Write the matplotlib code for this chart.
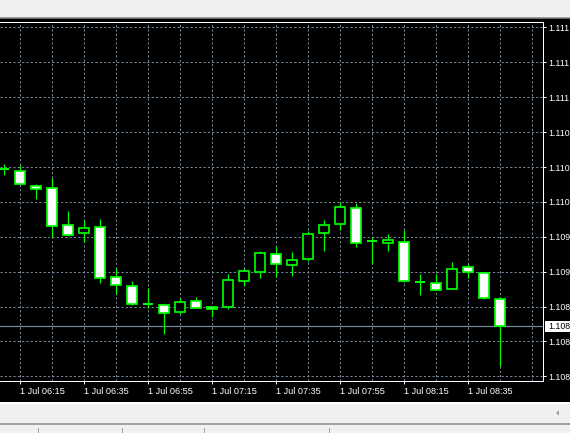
import matplotlib
matplotlib.use('Agg')
import matplotlib.pyplot as plt
from matplotlib.patches import Rectangle, Polygon
from matplotlib.transforms import blended_transform_factory

plt.rcParams['font.family'] = ['Liberation Sans', 'DejaVu Sans']

# ---------------- data ----------------
times = ['06:10', '06:15', '06:20', '06:25', '06:30', '06:35', '06:40', '06:45',
         '06:50', '06:55', '07:00', '07:05', '07:10', '07:15', '07:20', '07:25',
         '07:30', '07:35', '07:40', '07:45', '07:50', '07:55', '08:00', '08:05',
         '08:10', '08:15', '08:20', '08:25', '08:30', '08:35', '08:40', '08:45']
opens = [1.11035, 1.11033, 1.11018, 1.11016, 1.10979, 1.10971, 1.10977, 1.10927,
         1.10918, 1.10900, 1.10899, 1.10892, 1.10903, 1.10897, 1.10897, 1.10923,
         1.10932, 1.10950, 1.10939, 1.10945, 1.10971, 1.10980, 1.10996, 1.10963,
         1.10961, 1.10962, 1.10922, 1.10921, 1.10915, 1.10937, 1.10931, 1.10905]
highs = [1.11040, 1.11039, 1.11020, 1.11026, 1.10993, 1.10984, 1.10985, 1.10936,
         1.10923, 1.10916, 1.10900, 1.10906, 1.10907, 1.10898, 1.10930, 1.10936,
         1.10953, 1.10958, 1.10952, 1.10973, 1.10984, 1.11002, 1.11001, 1.10967,
         1.10970, 1.10974, 1.10930, 1.10930, 1.10942, 1.10940, 1.10932, 1.10907]
lows = [1.11029, 1.11020, 1.11005, 1.10967, 1.10968, 1.10962, 1.10921, 1.10910,
        1.10899, 1.10896, 1.10869, 1.10890, 1.10896, 1.10887, 1.10895, 1.10918,
        1.10926, 1.10927, 1.10928, 1.10943, 1.10953, 1.10974, 1.10957, 1.10940,
        1.10953, 1.10922, 1.10909, 1.10914, 1.10915, 1.10926, 1.10905, 1.10837]
closes = [1.11035, 1.11020, 1.11015, 1.10978, 1.10969, 1.10976, 1.10926, 1.10919,
          1.10900, 1.10900, 1.10891, 1.10902, 1.10896, 1.10895, 1.10924, 1.10933,
          1.10951, 1.10940, 1.10944, 1.10970, 1.10979, 1.10997, 1.10961, 1.10963,
          1.10964, 1.10923, 1.10922, 1.10914, 1.10935, 1.10932, 1.10906, 1.10877]
price_levels = [1.10827, 1.10862, 1.10897, 1.10932, 1.10967, 1.11002,
                1.11037, 1.11072, 1.11107, 1.11142, 1.11177]
time_labels = ['1 Jul 06:15', '1 Jul 06:35', '1 Jul 06:55', '1 Jul 07:15',
               '1 Jul 07:35', '1 Jul 07:55', '1 Jul 08:15', '1 Jul 08:35']
current_price = 1.10877

# ---------------- style ----------------
W, H = 570, 433
GREEN = '#00ff00'
GRID = '#778899'
FS = 6.6
PX = 72 / 100.0  # points per pixel


def short(p):
    # the price scale is cut off at the window edge: only 5 characters show
    return f'{p:.5f}'[:5]


fig = plt.figure(figsize=(W / 100, H / 100), dpi=100)
fig.patch.set_facecolor('black')


def frect(x0, y0, x1, y1, color):
    fig.patches.append(Rectangle((x0 / W, 1 - y1 / H), (x1 - x0) / W, (y1 - y0) / H,
                                 transform=fig.transFigure, facecolor=color,
                                 edgecolor='none', zorder=0))


# window chrome
frect(0, 0, W, 17, '#f0f0f0')
frect(0, 17, W, 18, '#a0a0a0')
frect(0, 18, W, 19, '#696969')
frect(0, 402, W, 403.5, '#ffffff')
frect(0, 403.5, W, 423, '#f0f0f0')
frect(0, 423, W, 424.5, '#a0a0a0')
frect(0, 424.5, W, H, '#f0f0f0')
for sx in [38, 121.7, 204, 329.3]:
    frect(sx, 428, sx + 1, H, '#a0a0a0')
fig.patches.append(Polygon([(556 / W, 1 - 413 / H), (559 / W, 1 - 410.3 / H),
                            (559 / W, 1 - 415.7 / H)], closed=True,
                           transform=fig.transFigure, facecolor='#a0a0a0',
                           edgecolor='none'))

top_px, bot_px, right_px = 21.5, 381.3, 543
ax = fig.add_axes([0, 1 - bot_px / H, right_px / W, (bot_px - top_px) / H])
ax.set_facecolor('black')

x = list(range(len(times)))
x0_px, step_px = 4.3, 16.0
ax.set_xlim(-x0_px / step_px, (right_px - x0_px) / step_px)
ax.set_ylim(1.10822, 1.11183)

# grid
for gx in range(1, 34, 2):
    ax.axvline(gx, color=GRID, lw=PX, dashes=(3 * PX, 3 * PX), zorder=1)
for gy in price_levels:
    ax.axhline(gy, color=GRID, lw=PX, dashes=(3 * PX, 3 * PX), zorder=1)

# current price line
ax.axhline(current_price, color=GRID, lw=1.2 * PX, zorder=2)

# candles
bw = 0.64
for i in x:
    o, h, l, c = opens[i], highs[i], lows[i], closes[i]
    ax.plot([i, i], [l, h], color=GREEN, lw=1.2 * PX, zorder=3,
            solid_capstyle='butt')
    if c == o:
        ax.plot([i - bw / 2, i + bw / 2], [o, o], color=GREEN, lw=2 * PX,
                zorder=4, solid_capstyle='butt')
    else:
        face = 'white' if c < o else 'black'
        ax.add_patch(Rectangle((i - bw / 2, min(o, c)), bw, abs(c - o),
                               facecolor=face, edgecolor=GREEN, lw=1.7 * PX,
                               zorder=4))

# axes / ticks
ax.spines['left'].set_visible(False)
for s in ['top', 'right', 'bottom']:
    ax.spines[s].set_color('white')
    ax.spines[s].set_linewidth(PX)

ax.yaxis.tick_right()
ax.set_yticks(price_levels)
ax.set_yticklabels([short(p) for p in price_levels])
ax.tick_params(axis='y', length=3 * PX, width=PX, colors='white',
               labelsize=6.3, pad=2 * PX)

tick_x = [times.index(t.split()[-1]) for t in time_labels]
ax.set_xticks(tick_x)
ax.set_xticklabels(time_labels)
ax.tick_params(axis='x', length=3 * PX, width=PX, colors='white',
               labelsize=FS, pad=2.5 * PX)
for lab in ax.get_xticklabels():
    lab.set_horizontalalignment('left')

# current price tag
bt = blended_transform_factory(ax.transAxes, ax.transData)
ppx = (1.11183 - 1.10822) / (bot_px - top_px)
ax.add_patch(Rectangle((545 / right_px, current_price - 5.2 * ppx), 40 / right_px,
                       10.4 * ppx, transform=bt, facecolor='white',
                       edgecolor='none', clip_on=False, zorder=5))
ax.text(548.5 / right_px, current_price, short(current_price), transform=bt,
        ha='left', va='center', color='black', fontsize=6.3, clip_on=False,
        zorder=6)

fig.savefig('out.png', dpi=100, facecolor='black')
